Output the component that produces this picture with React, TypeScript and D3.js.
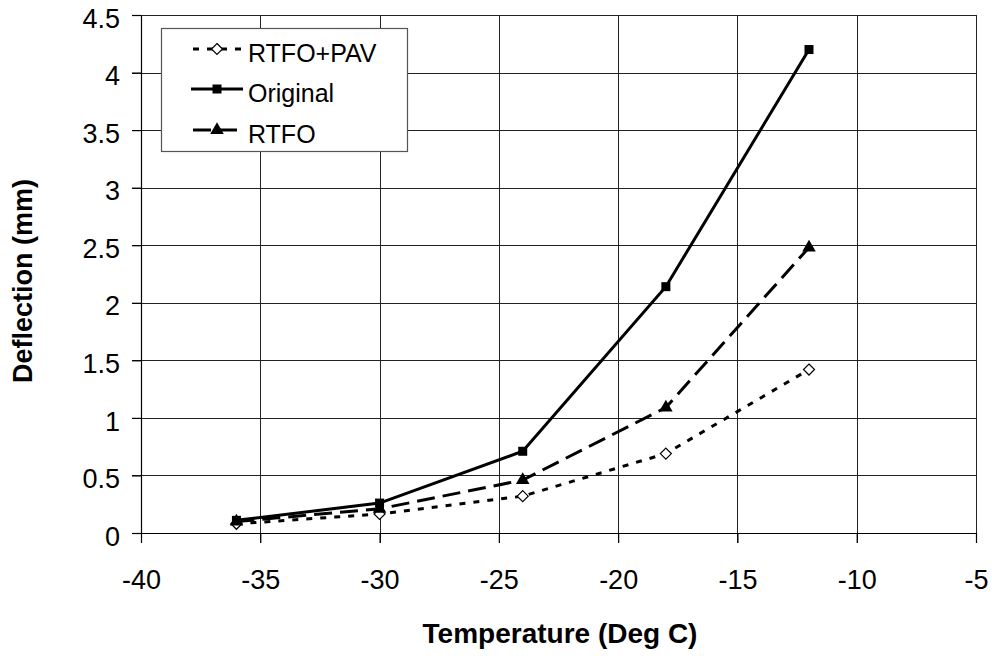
import React, { useRef, useEffect } from 'react';
import * as d3 from 'd3';

type Point = { t: number; v: number };

// temperatures (Deg C)
const temps = [-36, -30, -24, -18, -12];

// deflection (mm) per series
const original = [0.11, 0.26, 0.71, 2.14, 4.2];
const rtfo = [0.1, 0.21, 0.46, 1.09, 2.48];
const rtfoPav = [0.08, 0.165, 0.32, 0.69, 1.42];

const xTicks = [-40, -35, -30, -25, -20, -15, -10, -5];
const yTicks = [0, 0.5, 1, 1.5, 2, 2.5, 3, 3.5, 4, 4.5];

const seriesNames = ['RTFO+PAV', 'Original', 'RTFO'];

const width = 992;
const height = 656;
const font = 'Arial, "Liberation Sans", sans-serif';

const DeflectionChart = () => {
  const chartRef = useRef<SVGSVGElement | null>(null);

  useEffect(() => {
    if (!chartRef.current) return;
    const svg = d3.select(chartRef.current);
    svg.selectAll('*').remove();

    const x = d3.scaleLinear().domain([-40, -5]).range([141, 976]);
    const y = d3.scaleLinear().domain([0, 4.5]).range([533, 15]);

    const g = svg.append('g');

    // vertical gridlines
    g.selectAll('.vgrid')
      .data(xTicks.slice(1))
      .enter()
      .append('line')
      .attr('x1', (d) => Math.round(x(d)) + 0.5)
      .attr('x2', (d) => Math.round(x(d)) + 0.5)
      .attr('y1', y(4.5))
      .attr('y2', y(0) + 10)
      .attr('stroke', '#222')
      .attr('stroke-width', 1);

    // horizontal gridlines
    g.selectAll('.hgrid')
      .data(yTicks.slice(1))
      .enter()
      .append('line')
      .attr('x1', x(-40) - 9)
      .attr('x2', x(-5))
      .attr('y1', (d) => Math.round(y(d)) + 0.5)
      .attr('y2', (d) => Math.round(y(d)) + 0.5)
      .attr('stroke', '#222')
      .attr('stroke-width', 1);

    // axes
    const fmt = (d: d3.NumberValue) => String(d);
    const xAxis = d3.axisBottom(x).tickValues(xTicks).tickFormat(fmt).tickSize(10).tickSizeOuter(0).tickPadding(20);
    const yAxis = d3.axisLeft(y).tickValues(yTicks).tickFormat(fmt).tickSize(9).tickSizeOuter(0).tickPadding(12);

    const gx = g.append('g').attr('transform', `translate(0,${y(0)})`).call(xAxis);
    const gy = g.append('g').attr('transform', `translate(${x(-40)},0)`).call(yAxis);

    [gx, gy].forEach((ax) => {
      ax.selectAll('path, line').attr('stroke', '#000').attr('stroke-width', 1.2);
      ax.selectAll('text')
        .attr('fill', '#000')
        .style('font-family', font)
        .style('font-size', '27px');
    });
    gx.selectAll('text').attr('dy', '0.95em');
    gy.selectAll('text').attr('dy', '0.45em');

    // series
    const series = [
      { name: 'RTFO+PAV', vals: rtfoPav, dash: '6,8', marker: 'diamond' },
      { name: 'Original', vals: original, dash: null, marker: 'square' },
      { name: 'RTFO', vals: rtfo, dash: '18,8', marker: 'triangle' },
    ];

    const line = d3
      .line<Point>()
      .x((d) => x(d.t))
      .y((d) => y(d.v));

    const drawMarker = (
      sel: d3.Selection<SVGGElement, unknown, null, undefined>,
      kind: string,
      cx: number,
      cy: number
    ) => {
      if (kind === 'square') {
        sel.append('rect')
          .attr('x', cx - 4.5).attr('y', cy - 4.5)
          .attr('width', 9).attr('height', 9)
          .attr('fill', '#000');
      } else if (kind === 'triangle') {
        sel.append('path')
          .attr('d', d3.symbol(d3.symbolTriangle, 80)() as string)
          .attr('transform', `translate(${cx},${cy})`)
          .attr('fill', '#000');
      } else {
        sel.append('path')
          .attr('d', `M${cx},${cy - 5.5}L${cx + 5.5},${cy}L${cx},${cy + 5.5}L${cx - 5.5},${cy}Z`)
          .attr('fill', '#fff')
          .attr('stroke', '#000')
          .attr('stroke-width', 1.2);
      }
    };

    // draw back to front: PAV, RTFO, Original
    [series[0], series[2], series[1]].forEach((s) => {
      const pts: Point[] = temps.map((t, i) => ({ t, v: s.vals[i] }));
      const sg = g.append('g');
      sg.append('path')
        .datum(pts)
        .attr('d', line)
        .attr('fill', 'none')
        .attr('stroke', '#000')
        .attr('stroke-width', 3)
        .attr('stroke-dasharray', s.dash ?? null);
      pts.forEach((p) => drawMarker(sg as any, s.marker, x(p.t), y(p.v)));
    });

    // legend
    const lg = svg.append('g');
    lg.append('rect')
      .attr('x', 161.5).attr('y', 28.5)
      .attr('width', 246).attr('height', 123)
      .attr('fill', '#fff')
      .attr('stroke', '#555')
      .attr('stroke-width', 1.2);

    const rowY = [49, 89, 130];
    seriesNames.forEach((name, i) => {
      const s = series.find((d) => d.name === name)!;
      const ry = rowY[i];
      const row = lg.append('g');
      row.append('line')
        .attr('x1', 191).attr('x2', 243)
        .attr('y1', ry).attr('y2', ry)
        .attr('stroke', '#000')
        .attr('stroke-width', 3)
        .attr('stroke-dasharray', s.dash ?? null)
        .attr('stroke-dashoffset', s.dash ? -2 : 0);
      drawMarker(row as any, s.marker, 217, ry);
      row.append('text')
        .attr('x', 248).attr('y', ry + 13)
        .style('font-family', font)
        .style('font-size', '25px')
        .text(name);
    });

    // axis titles
    svg.append('text')
      .attr('x', 560).attr('y', 643)
      .attr('text-anchor', 'middle')
      .style('font-family', font)
      .style('font-size', '28px')
      .style('font-weight', 'bold')
      .text('Temperature (Deg C)');

    svg.append('text')
      .attr('transform', 'translate(32,281) rotate(-90)')
      .attr('text-anchor', 'middle')
      .style('font-family', font)
      .style('font-size', '27px')
      .style('font-weight', 'bold')
      .text('Deflection (mm)');
  }, []);

  return (
    <div style={{ position: 'absolute', left: 0, top: 0, background: '#fff' }}>
      <svg ref={chartRef} width={width} height={height} />
    </div>
  );
};

export default function App() {
  return <DeflectionChart />;
}
